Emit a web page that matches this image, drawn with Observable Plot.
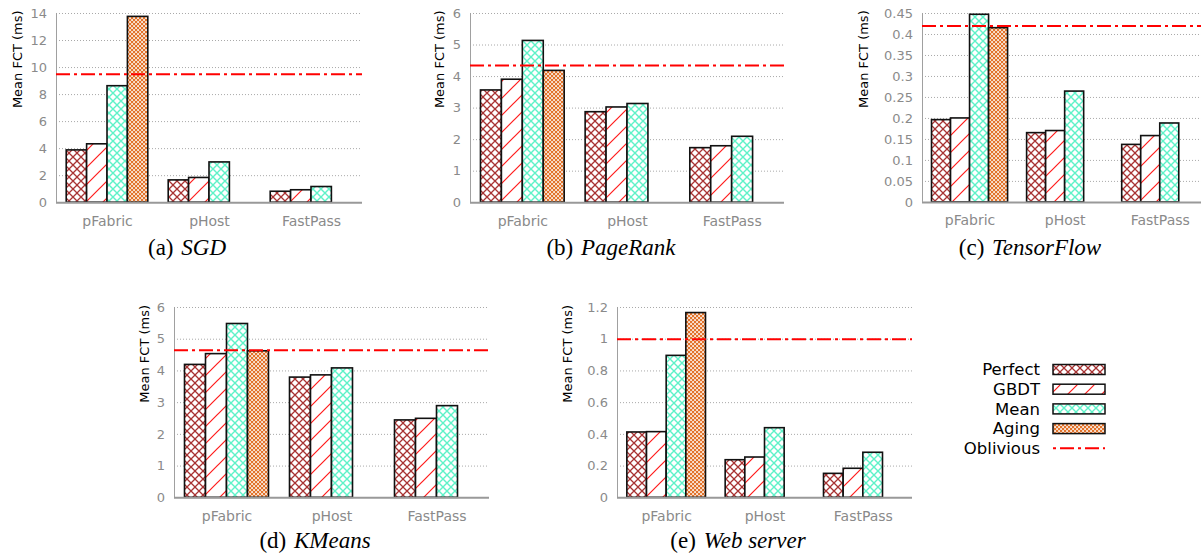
<!DOCTYPE html>
<html><head><meta charset="utf-8">
<script src="https://cdn.jsdelivr.net/npm/d3@7"></script>
<script src="https://cdn.jsdelivr.net/npm/@observablehq/plot@0.6"></script>
<style>
html,body{margin:0;padding:0;background:#fff}
body{width:1201px;height:556px;overflow:hidden;position:relative;font-family:"DejaVu Sans",sans-serif}
.panel{position:absolute}
.cap{position:absolute;font-family:"Liberation Serif","Times New Roman",serif;font-size:23px;line-height:23px;white-space:nowrap;transform:translateX(-50%);color:#000}
.cap i{margin-left:2px}
#legend{position:absolute;left:0;top:0}
</style></head><body>
<svg width="0" height="0" style="position:absolute;left:0;top:0">
  <defs>
    <pattern id="pat-Perfect" patternUnits="userSpaceOnUse" width="8" height="8">
      <rect width="8" height="8" fill="#fff"/>
      <path d="M0,0L8,8M8,0L0,8" stroke="#a83232" stroke-width="1.3"/>
    </pattern>
    <pattern id="pat-GBDT" patternUnits="userSpaceOnUse" width="17" height="17">
      <rect width="17" height="17" fill="#fff"/>
      <path d="M0,17L17,0M-4,4L4,-4M13,21L21,13" stroke="#ff1a1a" stroke-width="1.2"/>
    </pattern>
    <pattern id="pat-Mean" patternUnits="userSpaceOnUse" width="8" height="8">
      <rect width="8" height="8" fill="#fff"/>
      <path d="M0,0L8,8M8,0L0,8" stroke="#5ef2c8" stroke-width="1.4"/>
    </pattern>
    <pattern id="pat-Aging" patternUnits="userSpaceOnUse" width="4" height="4">
      <rect width="4" height="4" fill="#e2732b"/>
      <rect x="0.2" y="0.2" width="1.7" height="1.7" fill="#fff"/>
      <rect x="2.2" y="2.2" width="1.7" height="1.7" fill="#fff"/>
    </pattern>
  </defs>
</svg>
<div id="root"></div>
<script>
// ---- data ----
const groups = ["pFabric", "pHost", "FastPass"];
const series = ["Perfect", "GBDT", "Mean", "Aging"];
// rows: Perfect, GBDT, Mean, Aging ; columns: pFabric, pHost, FastPass
const sgd        = [[3.87, 1.65, 0.81], [4.32, 1.83, 0.92], [8.62, 2.98, 1.16], [13.75]];
const pageRank   = [[3.56, 2.87, 1.73], [3.90, 3.02, 1.79], [5.13, 3.13, 2.09], [4.18]];
const tensorFlow = [[0.196, 0.165, 0.137], [0.200, 0.170, 0.158], [0.447, 0.264, 0.188], [0.415]];
const kMeans     = [[4.19, 3.79, 2.44], [4.53, 3.86, 2.49], [5.48, 4.08, 2.89], [4.62]];
const webServer  = [[0.412, 0.237, 0.151], [0.414, 0.254, 0.183], [0.895, 0.439, 0.284], [1.165]];
const oblivious  = [9.5, 4.35, 0.42, 4.65, 1.0];
const ticksSGD = [0, 2, 4, 6, 8, 10, 12, 14];
const ticksPageRank = [0, 1, 2, 3, 4, 5, 6];
const ticksTensorFlow = [0, 0.05, 0.1, 0.15, 0.2, 0.25, 0.3, 0.35, 0.4, 0.45];
const ticksKMeans = [0, 1, 2, 3, 4, 5, 6];
const ticksWeb = [0, 0.2, 0.4, 0.6, 0.8, 1, 1.2];
const captionLetters = ["(a)", "(b)", "(c)", "(d)", "(e)"];
const workloadNames = ["SGD", "PageRank", "TensorFlow", "KMeans", "Web server"];
const yLabel = "Mean FCT (ms)";

// ---- layout ----
const panels = [
  {values: sgd,        ticks: ticksSGD,        axisX: 56,    right: 362,  top: 12.5,  base: 201.7, titleOff: 39, capX: 187, capBase: 255},
  {values: pageRank,   ticks: ticksPageRank,   axisX: 470,   right: 784,  top: 12.5,  base: 201.7, titleOff: 31, capX: 611, capBase: 255},
  {values: tensorFlow, ticks: ticksTensorFlow, axisX: 921.7, right: 1207, top: 12.8,  base: 201.7, titleOff: 59, capX: 1030, capBase: 255},
  {values: kMeans,     ticks: ticksKMeans,     axisX: 174.3, right: 489.3, top: 306.7, base: 497, titleOff: 30, capX: 315, capBase: 548},
  {values: webServer,  ticks: ticksWeb,        axisX: 616.7, right: 911.7, top: 306.7, base: 497, titleOff: 50, capX: 738, capBase: 548}
];
const SLOTS = series.length + 1; // bars per group + one-bar gap
const ML = 75, MR = 10, MT = 12, MB = 34;
const fmt = d => String(+d.toFixed(3));
const root = document.getElementById("root");

panels.forEach((cfg, k) => {
  const rows = [];
  cfg.values.forEach((vals, s) => vals.forEach((v, g) => rows.push({group: groups[g], series: series[s], gi: g, si: s, value: v})));
  const plotW = cfg.right - cfg.axisX, plotH = cfg.base - cfg.top;
  const top = cfg.ticks[cfg.ticks.length - 1];
  const chart = Plot.plot({
    width: ML + plotW + MR,
    height: MT + plotH + MB,
    marginLeft: ML, marginRight: MR, marginTop: MT, marginBottom: MB,
    style: {background: "transparent", overflow: "visible", fontFamily: "DejaVu Sans", fontSize: "13px"},
    x: {type: "linear", domain: [0, groups.length * SLOTS]},
    y: {type: "linear", domain: [0, top]},
    marks: [
      Plot.ruleY(cfg.ticks.slice(1), {stroke: "#a8a8a8", strokeWidth: 1, strokeDasharray: "1,2"}),
      Plot.axisY({ticks: cfg.ticks, tickFormat: fmt, tickSize: 0, tickPadding: 9.5, color: "#8a8a8a", fontSize: 13, label: null}),
      Plot.axisX({ticks: groups.map((_, g) => g * SLOTS + series.length / 2 + 0.5), tickFormat: t => groups[Math.floor(t / SLOTS)], tickSize: 0, tickPadding: 13, color: "#8a8a8a", fontSize: 14, label: null}),
      Plot.ruleX([0], {y1: 0, y2: top, stroke: "#a0a0a0", strokeWidth: 1}),
      Plot.rect(rows, {
        x1: d => d.gi * SLOTS + 0.5 + d.si,
        x2: d => d.gi * SLOTS + 1.5 + d.si,
        y1: 0, y2: "value",
        fill: d => `url(#pat-${d.series})`,
        stroke: "#111", strokeWidth: 1.6
      }),
      Plot.ruleY([0], {stroke: "#999", strokeWidth: 2}),
      Plot.ruleY([oblivious[k]], {stroke: "#ff0000", strokeWidth: 2, strokeDasharray: "14,4,3,4"}),
      Plot.text([yLabel], {frameAnchor: "left", rotate: -90, dx: -cfg.titleOff, text: d => d, fontSize: 13, fill: "#000"})
    ]
  });
  chart.classList.add("panel");
  chart.style.left = (cfg.axisX - ML) + "px";
  chart.style.top = (cfg.top - MT) + "px";
  root.appendChild(chart);

  const cap = document.createElement("div");
  cap.className = "cap";
  cap.style.left = cfg.capX + "px";
  cap.style.top = (cfg.capBase - 19.3) + "px";
  cap.innerHTML = `${captionLetters[k]} <i>${workloadNames[k]}</i>`;
  document.body.appendChild(cap);
});

// ---- legend ----
const legendItems = [...series, "Oblivious"];
const lg = d3.create("svg").attr("id", "legend").attr("width", 1201).attr("height", 556)
  .style("position", "absolute").style("left", "0px").style("top", "0px").style("pointer-events", "none");
const rowY = i => 369.5 + i * 19.7;
legendItems.forEach((name, i) => {
  const y = rowY(i);
  lg.append("text").attr("x", 1040).attr("y", y).attr("dy", "0.35em").attr("text-anchor", "end")
    .attr("font-family", "DejaVu Sans").attr("font-size", 16.5).attr("fill", "#000").text(name);
  if (name === "Oblivious") {
    lg.append("line").attr("x1", 1053).attr("x2", 1105).attr("y1", y).attr("y2", y)
      .attr("stroke", "#ff0000").attr("stroke-width", 2).attr("stroke-dasharray", "3,4,14,4");
  } else {
    lg.append("rect").attr("x", 1053).attr("y", y - 5).attr("width", 52).attr("height", 10)
      .attr("fill", `url(#pat-${name})`).attr("stroke", "#111").attr("stroke-width", 1.5);
  }
});
document.body.appendChild(lg.node());
</script>
</body></html>
